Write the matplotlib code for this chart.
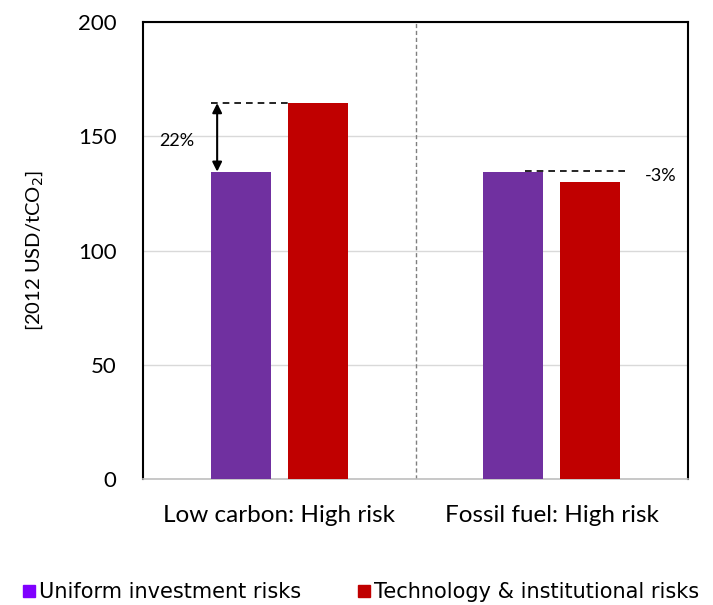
import matplotlib
matplotlib.use("Agg")
import matplotlib.pyplot as plt
from matplotlib.lines import Line2D
import numpy as np

categories = ["Low carbon: High risk", "Fossil fuel: High risk"]
series_names = ["Uniform investment risks", "Technology & institutional risks"]
uniform = [134.5, 134.5]
techinst = [164.5, 130.0]
pct_labels = ["22%", "-3%"]
yticks = [0, 50, 100, 150, 200]

bar_colors = ["#7030A0", "#C00000"]
legend_colors = ["#8000FF", "#C00000"]

plt.rcParams['font.family'] = ['Lato', 'DejaVu Sans']

fig = plt.figure(figsize=(7.13, 6.05), dpi=100)
ax = fig.add_axes([0.2006, 0.2083, 0.7644, 0.7553])

x = np.arange(len(categories))
w = 0.22
off = 0.141
ax.bar(x - off, uniform, w, color=bar_colors[0], zorder=3)
ax.bar(x + off, techinst, w, color=bar_colors[1], zorder=3)

ax.set_xlim(-0.5, 1.5)
ax.set_ylim(0, 200)
ax.set_yticks(yticks)
ax.set_xticks(x)
ax.set_xticklabels(categories, fontsize=17.5)
ax.tick_params(axis='y', length=0, pad=19, labelsize=16)
ax.tick_params(axis='x', length=0, pad=19)
ax.grid(axis='y', color='#d9d9d9', linewidth=1, zorder=0)
for s in ['left', 'top', 'right']:
    ax.spines[s].set_color('black')
    ax.spines[s].set_linewidth(1.5)
ax.spines['bottom'].set_color('#bfbfbf')
ax.spines['bottom'].set_linewidth(1.2)

ax.axvline(0.5, color='#7f7f7f', linestyle=(0, (3, 2)), linewidth=1, zorder=2)

ax.set_ylabel("[2012 USD/tCO$_2$]", fontsize=14.5, labelpad=24)

# Annotation 1
ax.plot([x[0] - off - w / 2, x[0] + off - w / 2], [techinst[0], techinst[0]],
        color='black', linestyle=(0, (4, 3)), linewidth=1.2, zorder=4)
ax.annotate("", xy=(-0.228, uniform[0]), xytext=(-0.228, techinst[0]),
            arrowprops=dict(arrowstyle='<|-|>', color='black', lw=1.5,
                            shrinkA=0, shrinkB=0, mutation_scale=14), zorder=5)
ax.text(-0.375, 148, pct_labels[0], fontsize=13, ha='center', va='center')

# Annotation 2
ax.plot([x[1] - 0.1, x[1] + 0.27], [uniform[1] + 0.5, uniform[1] + 0.5],
        color='black', linestyle=(0, (4, 3)), linewidth=1.2, zorder=4)
ax.text(1.4, 132.5, pct_labels[1], fontsize=13, ha='center', va='center')

handles = [Line2D([], [], marker='s', linestyle='none', markersize=9,
                  markerfacecolor=c, markeredgecolor=c) for c in legend_colors]
fig.legend(handles, series_names, loc='center', bbox_to_anchor=(0.505, 0.021),
           ncol=2, frameon=False, handletextpad=0.1,
           columnspacing=2.6, handlelength=0.8,
           prop={'family': ['DejaVu Sans'], 'size': 15})

fig.savefig("out.png", dpi=100)
